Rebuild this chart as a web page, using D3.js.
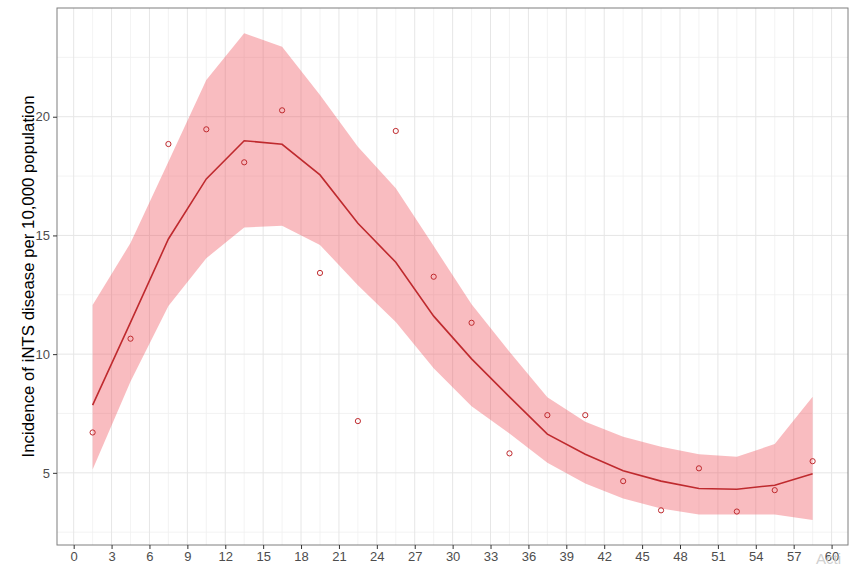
<!DOCTYPE html>
<html>
<head>
<meta charset="utf-8">
<script src="https://cdn.jsdelivr.net/npm/d3@7"></script>
<style>
  body { margin: 0; background: #fff; }
  svg { display: block; font-family: "Liberation Sans", Arial, sans-serif; }
</style>
</head>
<body>
<svg width="856" height="567"></svg>
<script>
// age in months (bin midpoints)
const ages = [1.5, 4.5, 7.5, 10.5, 13.5, 16.5, 19.5, 22.5, 25.5, 28.5,
              31.5, 34.5, 37.5, 40.5, 43.5, 46.5, 49.5, 52.5, 55.5, 58.5];
// observed incidence
const observed = [6.70, 10.65, 18.85, 19.47, 18.08, 20.27, 13.42, 7.18, 19.40, 13.26,
                  11.32, 5.82, 7.43, 7.43, 4.65, 3.42, 5.19, 3.37, 4.27, 5.49];
// smoothed fit and confidence band
const fitted = [7.85, 11.34, 14.85, 17.38, 18.99, 18.84, 17.55, 15.51, 13.87, 11.6,
                9.8, 8.2, 6.63, 5.78, 5.09, 4.65, 4.34, 4.31, 4.48, 4.96];
const upper = [12.07, 14.68, 18.1, 21.55, 23.52, 22.95, 20.92, 18.74, 16.99, 14.55,
               12.1, 10.1, 8.18, 7.15, 6.52, 6.10, 5.78, 5.68, 6.21, 8.2];
const lower = [5.14, 8.85, 12.03, 14.04, 15.33, 15.41, 14.6, 12.9, 11.35, 9.4,
               7.8, 6.66, 5.42, 4.55, 3.92, 3.50, 3.25, 3.25, 3.25, 3.01];
const xTicks = d3.range(0, 61, 3);
const yTicks = [5, 10, 15, 20];

const rows = ages.map((a, i) => ({ age: a, obs: observed[i], fit: fitted[i], lo: lower[i], hi: upper[i] }));

const svg = d3.select('svg');
const panelL = 57, panelR = 848, panelT = 8, panelB = 545;

const x = d3.scaleLinear().domain([-1.32, 61.3]).range([panelL, panelR]);
const y = d3.scaleLinear().domain([1.96, 24.58]).range([panelB, panelT]);

// grid: minor then major
const minorX = d3.range(-1.5, 62, 3).filter(v => v > -1.32 && v < 61.3);
const minorY = [2.5, 7.5, 12.5, 17.5, 22.5];
const grid = svg.append('g');
grid.selectAll('.mx').data(minorX).enter().append('line')
  .attr('x1', d => x(d)).attr('x2', d => x(d)).attr('y1', panelT).attr('y2', panelB)
  .attr('stroke', '#f0f0f0').attr('stroke-width', 0.8);
grid.selectAll('.my').data(minorY).enter().append('line')
  .attr('y1', d => y(d)).attr('y2', d => y(d)).attr('x1', panelL).attr('x2', panelR)
  .attr('stroke', '#f0f0f0').attr('stroke-width', 0.8);
grid.selectAll('.jx').data(xTicks).enter().append('line')
  .attr('x1', d => x(d)).attr('x2', d => x(d)).attr('y1', panelT).attr('y2', panelB)
  .attr('stroke', '#e6e6e6').attr('stroke-width', 1);
grid.selectAll('.jy').data(yTicks).enter().append('line')
  .attr('y1', d => y(d)).attr('y2', d => y(d)).attr('x1', panelL).attr('x2', panelR)
  .attr('stroke', '#e6e6e6').attr('stroke-width', 1);

// confidence band
svg.append('path')
  .datum(rows)
  .attr('d', d3.area().x(d => x(d.age)).y0(d => y(d.lo)).y1(d => y(d.hi)))
  .attr('fill', '#f0505a')
  .attr('fill-opacity', 0.38);

// fitted line
svg.append('path')
  .datum(rows)
  .attr('d', d3.line().x(d => x(d.age)).y(d => y(d.fit)))
  .attr('fill', 'none')
  .attr('stroke', '#bf2a2e')
  .attr('stroke-width', 1.6);

// observed points
svg.selectAll('.pt').data(rows).enter().append('circle')
  .attr('cx', d => x(d.age)).attr('cy', d => y(d.obs)).attr('r', 2.6)
  .attr('fill', 'none').attr('stroke', '#bf2a2e').attr('stroke-width', 1);

// panel border
svg.append('rect')
  .attr('x', panelL).attr('y', panelT).attr('width', panelR - panelL).attr('height', panelB - panelT)
  .attr('fill', 'none').attr('stroke', '#7f7f7f').attr('stroke-width', 1);

// axes
const xAxis = svg.append('g')
  .attr('transform', `translate(0,${panelB})`)
  .call(d3.axisBottom(x).tickValues(xTicks).tickSize(4).tickPadding(3));
const yAxis = svg.append('g')
  .attr('transform', `translate(${panelL},0)`)
  .call(d3.axisLeft(y).tickValues(yTicks).tickSize(4).tickPadding(3));
[xAxis, yAxis].forEach(a => {
  a.select('.domain').remove();
  a.selectAll('.tick line').attr('stroke', '#333');
  a.selectAll('.tick text').attr('fill', '#4d4d4d').style('font-size', '13px');
});

svg.append('text')
  .attr('transform', `translate(34,${(panelT + panelB) / 2}) rotate(-90)`)
  .attr('text-anchor', 'middle')
  .style('font-size', '16.8px')
  .attr('fill', '#000')
  .text('Incidence of iNTS disease per 10,000 population');

// faint watermark in the corner
svg.append('text')
  .attr('x', 816).attr('y', 564)
  .style('font-size', '15px')
  .attr('fill', '#d0d0d0')
  .text('Acti');
</script>
</body>
</html>
